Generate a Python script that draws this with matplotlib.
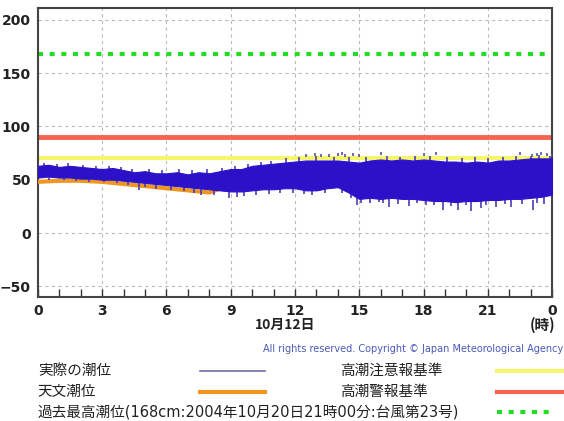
import numpy as np
import matplotlib.pyplot as plt
from matplotlib.lines import Line2D

plt.rcParams['font.family'] = ['DejaVu Sans', 'Noto Sans CJK JP']

# observed tide envelope (half-hourly, cm)
obs_hours = np.arange(0, 24.5, 0.5)
obs_high = [63, 64, 62, 63, 62, 61, 60, 61, 59, 57, 58, 56, 56, 57, 55, 57, 56,
            58, 60, 60, 63, 64, 65, 66, 67, 68, 68, 68, 68, 67, 66, 68, 69, 68,
            69, 68, 69, 68, 67, 67, 66, 67, 66, 68, 68, 69, 70, 70, 70]
obs_low = [52, 53, 52, 52, 51, 51, 50, 50, 49, 48, 47, 46, 45, 44, 43, 42, 41,
           40, 39, 39, 40, 41, 41, 42, 42, 40, 40, 42, 43, 38, 32, 33, 32, 33,
           32, 32, 31, 30, 30, 29, 30, 30, 31, 31, 32, 32, 33, 34, 36]

# downward spikes of the observed tide (hour, lowest cm)
down_t = [0.5, 1.2, 1.8, 2.4, 3.1, 3.7, 4.2, 4.7, 5.0, 5.5, 6.2, 6.8, 7.3, 7.6,
          8.2, 8.9, 9.3, 9.6, 10.2, 10.8, 11.3, 11.9, 12.4, 12.8, 13.4, 14.2,
          14.6, 14.9, 15.1, 15.5, 15.9, 16.1, 16.4, 16.8, 17.3, 17.7, 18.1,
          18.5, 18.9, 19.3, 19.6, 20.0, 20.2, 20.7, 20.9, 21.4, 21.8, 22.1,
          22.6, 23.1, 23.3, 23.6, 24.0]
down_v = [50, 50, 49, 48, 48, 47, 45, 40, 43, 41, 40, 39, 38, 36, 36, 33, 34,
          35, 36, 37, 38, 38, 37, 36, 38, 38, 33, 26, 28, 28, 29, 28, 24, 27,
          25, 28, 26, 26, 22, 25, 22, 26, 21, 23, 26, 24, 27, 24, 27, 22, 28,
          27, 31]
# upward spikes (hour, highest cm)
up_t = [0.3, 0.9, 1.4, 2.1, 2.7, 3.3, 3.9, 4.4, 5.2, 5.8, 6.6, 7.2, 7.9, 8.6,
        9.2, 9.8, 10.4, 10.9, 11.6, 12.2, 13.0, 13.8, 14.5, 15.3, 16.3, 16.9,
        17.6, 18.3, 19.1, 19.8, 20.4, 21.0, 21.7, 22.3, 23.0, 23.4, 23.9]
up_v = [66, 65, 66, 64, 63, 63, 62, 60, 60, 59, 60, 59, 60, 61, 63, 65, 67,
        68, 70, 71, 72, 71, 71, 71, 72, 71, 72, 72, 71, 70, 71, 70, 71, 72,
        72, 73, 72]
# isolated high readings above the band
dot_t = [12.5, 12.95, 13.2, 13.6, 14.0, 14.2, 14.35, 14.7, 15.0, 16.0, 18.0,
         18.6, 22.5, 23.05, 23.3, 23.5, 23.75, 24.0]
dot_v = [74, 75, 74, 74, 75, 76, 74, 75, 74, 76, 75, 76, 76, 74, 75, 76, 75, 74]

# astronomical tide (hourly, cm)
astro_hours = np.arange(0, 25, 1)
astro = [48, 49, 49, 48, 46, 44, 42, 40, 38, 45, 50, 52, 54, 55, 55, 54, 52,
         50, 49, 48, 48, 48, 49, 50, 51]

caution_level = 70
warning_level = 90
record_level = 168

xticks = list(range(0, 25, 3))
xlabels = ['0', '3', '6', '9', '12', '15', '18', '21', '0']
yticks = [-50, 0, 50, 100, 150, 200]

blue = '#2b12c9'
spike = '#4a3cb0'
orange = '#f0961e'
yellow = '#f6f66c'
red = '#f4644e'
green = '#22dd22'

fig = plt.figure(figsize=(5.64, 4.21), dpi=100)
ax = fig.add_axes([0.067, 0.2945, 0.912, 0.6865])

ax.axhline(record_level, color=green, lw=3, ls=(0, (1.2, 1.6)), zorder=2)
ax.axhline(warning_level, color=red, lw=3.5, zorder=2)
ax.axhline(caution_level, color=yellow, lw=3, zorder=2)

ax.plot(astro_hours, astro, color=orange, lw=3, zorder=3)
ax.vlines(down_t, down_v, np.array(down_v) + 9, color=spike, lw=1.2, zorder=3.5)
ax.vlines(up_t, np.array(up_v) - 8, up_v, color=spike, lw=1.2, zorder=3.5)
ax.vlines(dot_t, np.array(dot_v) - 3, dot_v, color='#5a50a8', lw=1.2, zorder=3.5)
ax.fill_between(obs_hours, obs_low, obs_high, color=blue, lw=0.8,
                edgecolor=blue, zorder=4)

ax.set_xlim(0, 24)
ax.set_ylim(-60, 211)
ax.set_xticks(xticks)
ax.set_xticklabels(xlabels)
ax.set_xticks(range(25), minor=True)
ax.set_yticks(yticks)
ax.tick_params(axis='x', which='both', direction='in', length=6, width=1,
               color='#333333', labelsize=10, pad=5)
ax.tick_params(axis='y', length=0, labelsize=10, pad=5)
for lab in ax.get_xticklabels() + ax.get_yticklabels():
    lab.set_fontweight('bold')
    lab.set_color('#222222')
ax.grid(True, color='#bbbbbb', ls=(0, (3, 3)), lw=0.8)
for sp in ax.spines.values():
    sp.set_color('#444444')
    sp.set_linewidth(1.5)

jp = ['Noto Sans CJK JP', 'DejaVu Sans']
fig.text(0.505, 0.228, '10月12日', family=jp, fontsize=10, fontweight='bold',
         ha='center', va='center', color='#222222')
fig.text(0.94, 0.228, '(時)', family=jp, fontsize=10.5, fontweight='bold',
         ha='left', va='center', color='#222222')
fig.text(0.998, 0.171, 'All rights reserved. Copyright © Japan Meteorological Agency',
         fontsize=7, ha='right', va='center', color='#4a5ab8')

rows = [0.119, 0.069, 0.022]
fs = 10.5
fig.text(0.067, rows[0], '実際の潮位', family=jp, fontsize=fs, va='center', color='#222222')
fig.text(0.067, rows[1], '天文潮位', family=jp, fontsize=fs, va='center', color='#222222')
fig.text(0.067, rows[2], '過去最高潮位(168cm:2004年10月20日21時00分:台風第23号)',
         family=['DejaVu Sans', 'Noto Sans CJK JP'], fontsize=fs, va='center',
         color='#222222')
fig.text(0.603, rows[0], '高潮注意報基準', family=jp, fontsize=fs, va='center', color='#222222')
fig.text(0.603, rows[1], '高潮警報基準', family=jp, fontsize=fs, va='center', color='#222222')

fig.add_artist(Line2D([0.355, 0.47], [rows[0]] * 2, color='#6a70a8', lw=1.2))
fig.add_artist(Line2D([0.355, 0.47], [rows[1]] * 2, color=orange, lw=3))
fig.add_artist(Line2D([0.881, 1.0], [rows[0]] * 2, color=yellow, lw=3))
fig.add_artist(Line2D([0.881, 1.0], [rows[1]] * 2, color=red, lw=3))
fig.add_artist(Line2D([0.881, 0.98], [rows[2]] * 2, color=green, lw=3,
                      ls=(0, (1.2, 1.6))))

fig.savefig('out.png', dpi=100)
